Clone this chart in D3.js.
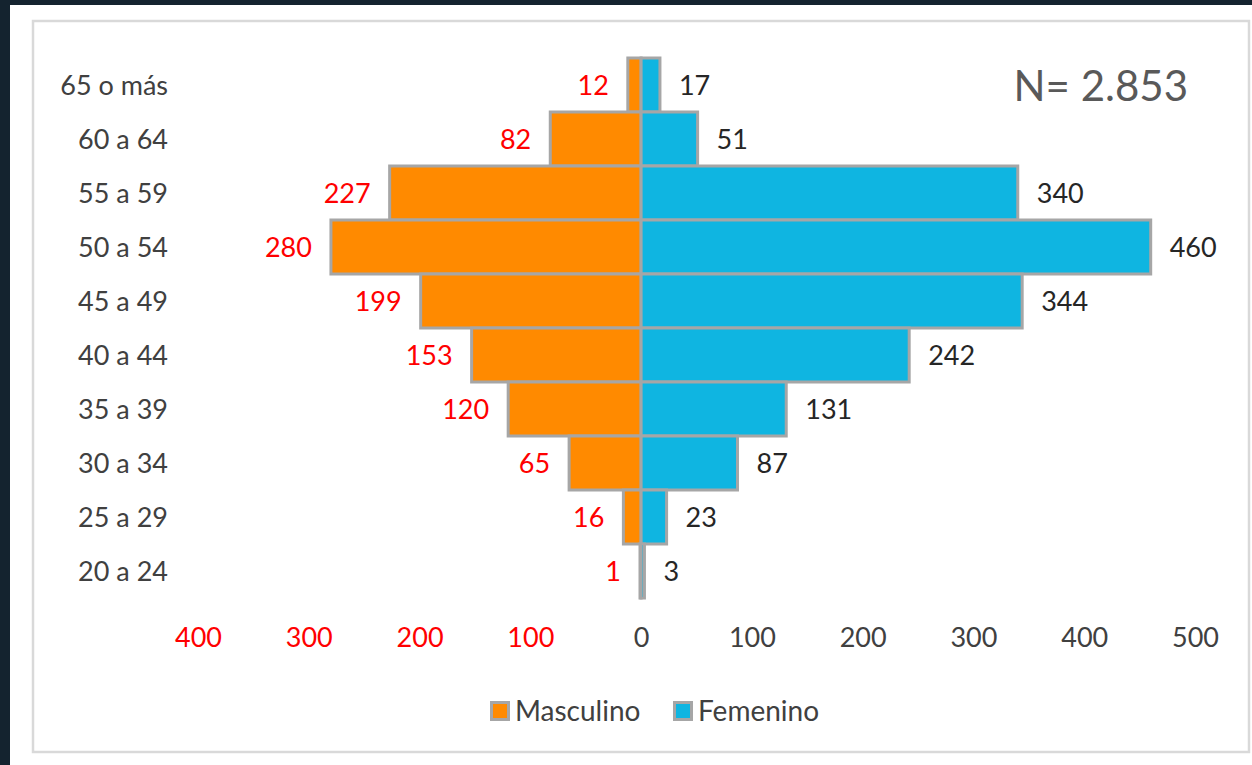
<!DOCTYPE html>
<html>
<head>
<meta charset="utf-8">
<script src="https://cdn.jsdelivr.net/npm/d3@7"></script>
<style>
  body { margin: 0; background: #14232f; }
  svg { display: block; }
  text { font-family: Lato, "Open Sans", sans-serif; }
</style>
</head>
<body>
<div id="piramide"></div>
<script>
// valores
var grupos = ["65 o más", "60 a 64", "55 a 59", "50 a 54", "45 a 49", "40 a 44", "35 a 39", "30 a 34", "25 a 29", "20 a 24"];
var masculino = [12, 82, 227, 280, 199, 153, 120, 65, 16, 1];
var femenino = [17, 51, 340, 460, 344, 242, 131, 87, 23, 3];
var ticks = [-400, -300, -200, -100, 0, 100, 200, 300, 400, 500];
var totalTexto = "N= 2.853";

var W = 1252, H = 765;
var colMasc = "#ff8a00", colFem = "#0fb5e1", borde = "#a6a6a6";

var svg = d3.select("#piramide").append("svg")
  .attr("width", W)
  .attr("height", H);

// fondo blanco y marco
svg.append("rect").attr("x", 10).attr("y", 5).attr("width", W - 10).attr("height", H - 5).attr("fill", "#fff");
svg.append("rect").attr("x", 33).attr("y", 21).attr("width", 1216).attr("height", 731)
  .attr("fill", "none").attr("stroke", "#d9d9d9").attr("stroke-width", 2.5);

var x = d3.scaleLinear().domain([-400, 500]).range([198, 1195]);
var y = d3.scaleBand().domain(grupos).range([58, 598]).padding(0);

var filas = grupos.map((g, i) => ({ g: g, m: masculino[i], f: femenino[i] }));

// barras masculino (izquierda)
svg.selectAll("rect.masc")
  .data(filas)
  .enter()
  .append("rect")
    .attr("class", "masc")
    .attr("x", d => x(-d.m))
    .attr("y", d => y(d.g))
    .attr("width", d => x(0) - x(-d.m))
    .attr("height", y.bandwidth())
    .attr("fill", colMasc)
    .attr("stroke", borde)
    .attr("stroke-width", 3);

// barras femenino (derecha)
svg.selectAll("rect.fem")
  .data(filas)
  .enter()
  .append("rect")
    .attr("class", "fem")
    .attr("x", x(0))
    .attr("y", d => y(d.g))
    .attr("width", d => x(d.f) - x(0))
    .attr("height", y.bandwidth())
    .attr("fill", colFem)
    .attr("stroke", borde)
    .attr("stroke-width", 3);

// etiquetas de valores
svg.selectAll("text.lm")
  .data(filas)
  .enter()
  .append("text")
    .attr("x", d => x(-d.m) - 19)
    .attr("y", d => y(d.g) + y.bandwidth() / 2)
    .attr("dy", "0.36em")
    .attr("text-anchor", "end")
    .attr("font-size", 27)
    .attr("fill", "#ff0000")
    .text(d => d.m);

svg.selectAll("text.lf")
  .data(filas)
  .enter()
  .append("text")
    .attr("x", d => x(d.f) + 19)
    .attr("y", d => y(d.g) + y.bandwidth() / 2)
    .attr("dy", "0.36em")
    .attr("text-anchor", "start")
    .attr("font-size", 27)
    .attr("fill", "#262626")
    .text(d => d.f);

// categorias
svg.selectAll("text.cat")
  .data(grupos)
  .enter()
  .append("text")
    .attr("x", 168)
    .attr("y", d => y(d) + y.bandwidth() / 2)
    .attr("dy", "0.36em")
    .attr("text-anchor", "end")
    .attr("font-size", 27)
    .attr("fill", "#404040")
    .text(d => d);

// eje horizontal
var eje = svg.append("g")
  .attr("transform", "translate(0,623)")
  .call(d3.axisBottom(x).tickValues(ticks).tickSize(0).tickFormat(d => Math.abs(d)));
eje.select(".domain").remove();
eje.selectAll("text")
  .attr("font-size", 27)
  .attr("font-family", "Lato, sans-serif")
  .attr("dy", "0.36em")
  .attr("y", 14)
  .attr("fill", d => d < 0 ? "#ff0000" : "#404040");

// total
svg.append("text")
  .attr("x", 1188)
  .attr("y", 86)
  .attr("dy", "0.36em")
  .attr("text-anchor", "end")
  .attr("font-size", 42)
  .attr("fill", "#595959")
  .text(totalTexto);

// leyenda
var leyenda = [{ n: "Masculino", c: colMasc, x: 490 }, { n: "Femenino", c: colFem, x: 673 }];
var lg = svg.selectAll("g.ley")
  .data(leyenda)
  .enter()
  .append("g")
    .attr("transform", d => "translate(" + d.x + ",711)");
lg.append("rect")
  .attr("x", 1.5).attr("y", -8.5).attr("width", 17).attr("height", 17)
  .attr("fill", d => d.c).attr("stroke", borde).attr("stroke-width", 3);
lg.append("text")
  .attr("x", 25)
  .attr("dy", "0.36em")
  .attr("font-size", 28)
  .attr("fill", "#404040")
  .text(d => d.n);
</script>
</body>
</html>
